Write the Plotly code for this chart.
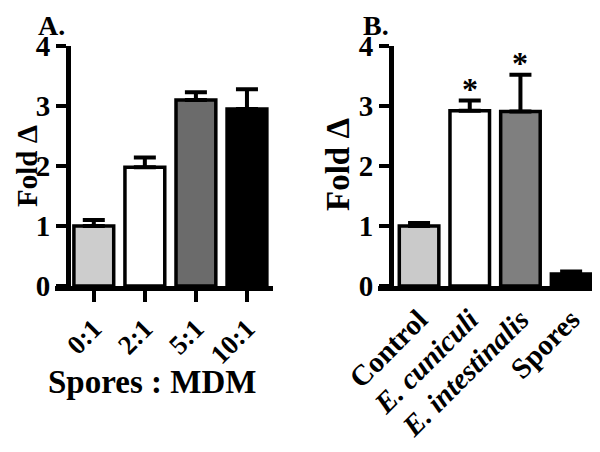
import plotly.graph_objects as go

# ---- data ----
ratios = ["0:1", "2:1", "5:1", "10:1"]
fold_a = [1.00, 1.98, 3.10, 2.95]
err_a = [0.10, 0.16, 0.13, 0.33]
colors_a = ["#cdcdcd", "#ffffff", "#6b6b6b", "#000000"]

groups = ["Control", "E. cuniculi", "E. intestinalis", "Spores"]
group_labels = ["Control", "<i>E. cuniculi</i>", "<i>E. intestinalis</i>", "Spores"]
fold_b = [1.00, 2.92, 2.91, 0.20]
err_b = [0.05, 0.17, 0.61, 0.04]
colors_b = ["#cacaca", "#ffffff", "#7f7f7f", "#000000"]
signif_b = ["", "*", "*", ""]

yticks = [0, 1, 2, 3, 4]

FONT = "Liberation Serif"
OFF = 8                      # default page margin of the HTML body
W, H = 600 - OFF, 452 - OFF


def px_x(p):
    return (p - OFF) / W


def px_y(p):
    return 1 - (p - OFF) / H


def bfont(size, **kw):
    return dict(family=FONT, size=size, color="black", weight="bold", **kw)


fig = go.Figure()

for xs, ys, es, cols, xa, ya in [(ratios, fold_a, err_a, colors_a, "x", "y"),
                                 (groups, fold_b, err_b, colors_b, "x2", "y2")]:
    fig.add_trace(go.Bar(
        x=xs, y=ys, xaxis=xa, yaxis=ya, width=0.78,
        marker=dict(color=cols, line=dict(color="black", width=3.5)),
        error_y=dict(type="data", array=es, arrayminus=[0] * len(es), symmetric=False,
                     color="black", thickness=4, width=11),
        showlegend=False,
    ))

yd = [px_y(286), px_y(46)]
axis_common = dict(showgrid=False, zeroline=False, showline=True, linecolor="black",
                   linewidth=5, automargin=False)
ytick_common = dict(range=[0, 4], tickvals=yticks, ticks="outside", ticklen=10, tickwidth=4,
                    tickcolor="black", tickfont=bfont(29))

fig.update_layout(
    width=W, height=H, margin=dict(l=0, r=0, t=0, b=0),
    paper_bgcolor="white", plot_bgcolor="white",
    xaxis=dict(domain=[px_x(55), px_x(273)], anchor="y", range=[-0.76, 3.51],
               type="category", ticks="outside", ticklen=11, tickwidth=4, tickcolor="black",
               tickangle=-45, tickfont=bfont(27),
               **axis_common),
    yaxis=dict(domain=yd, anchor="free", position=px_x(68), **ytick_common, **axis_common),
    xaxis2=dict(domain=[px_x(378), px_x(598)], anchor="y2", range=[-0.81, 3.53],
                type="category", tickvals=groups, ticktext=group_labels,
                ticks="", tickangle=-45, tickfont=bfont(29),
                **axis_common),
    yaxis2=dict(domain=yd, anchor="free", position=px_x(391), **ytick_common, **axis_common),
)

annotations = [
    dict(text="A.", xref="paper", yref="paper", x=px_x(36), y=px_y(8), xanchor="left",
         yanchor="top", showarrow=False, font=bfont(28)),
    dict(text="B.", xref="paper", yref="paper", x=px_x(361), y=px_y(8), xanchor="left",
         yanchor="top", showarrow=False, font=bfont(28)),
    dict(text="Spores : MDM", xref="paper", yref="paper", x=px_x(152), y=px_y(382),
         xanchor="center", yanchor="middle", showarrow=False, font=bfont(33)),
    dict(text="Fold Δ", xref="paper", yref="paper", x=px_x(27), y=px_y(166),
         xanchor="center", yanchor="middle", textangle=-90, showarrow=False, font=bfont(29)),
    dict(text="Fold Δ", xref="paper", yref="paper", x=px_x(338), y=px_y(165),
         xanchor="center", yanchor="middle", textangle=-90, showarrow=False, font=bfont(33)),
]
for g, v, e, s in zip(groups, fold_b, err_b, signif_b):
    if s:
        annotations.append(dict(text=s, x=g, y=v + e, xref="x2", yref="y2", xanchor="center",
                                yanchor="bottom", yshift=-8, showarrow=False, font=bfont(32)))
fig.update_layout(annotations=annotations)

fig.write_html("out.html")
